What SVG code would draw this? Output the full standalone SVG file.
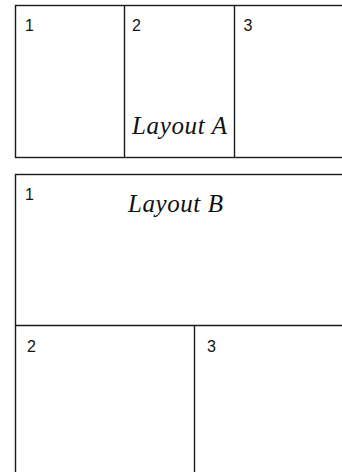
<svg xmlns="http://www.w3.org/2000/svg" width="342" height="472" viewBox="0 0 342 472">
<style>
.box{fill:#fff;stroke:#1a1a1a;stroke-width:1.4}
.ln{stroke:#1a1a1a;stroke-width:1.4}
.num{font-family:"Liberation Sans",Arial,sans-serif;font-size:16px;fill:#111}
.title{font-family:"Liberation Serif","Times New Roman",serif;font-style:italic;font-size:25px;fill:#111}
</style>
<rect width="342" height="472" fill="#fff"/>
<g id="layoutA">
<rect class="box" x="15.5" y="5.5" width="340" height="152"/>
<line class="ln" x1="124.5" y1="5.5" x2="124.5" y2="157.5"/>
<line class="ln" x1="234.5" y1="5.5" x2="234.5" y2="157.5"/>
<text class="num" x="25" y="30.5">1</text>
<text class="num" x="132" y="30.5">2</text>
<text class="num" x="243.5" y="30.5">3</text>
<text class="title" x="132" y="134" textLength="95" lengthAdjust="spacing">Layout A</text>
</g>
<g id="layoutB">
<rect class="box" x="15.5" y="174.5" width="340" height="310"/>
<line class="ln" x1="15.5" y1="325.5" x2="350" y2="325.5"/>
<line class="ln" x1="194.5" y1="325.5" x2="194.5" y2="480"/>
<text class="num" x="25" y="199.5">1</text>
<text class="num" x="27" y="352">2</text>
<text class="num" x="207" y="352">3</text>
<text class="title" x="128" y="212" textLength="95" lengthAdjust="spacing">Layout B</text>
</g>
</svg>
